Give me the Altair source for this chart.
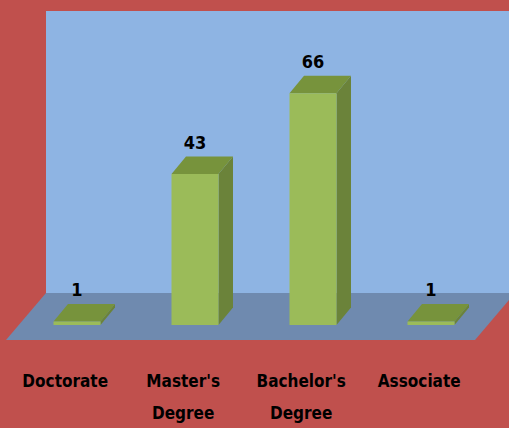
import altair as alt
import pandas as pd

categories = ["Doctorate", "Master's\nDegree", "Bachelor's\nDegree", "Associate"]
values = [1, 43, 66, 1]

# geometry in scale units
W, H = 509, 428
PX_PER_CAT = 118.0
X0_PX = 77.0
PX_PER_VAL = 3.51
Y0_PX = 325.0
x_dom = [-X0_PX / PX_PER_CAT, (W - X0_PX) / PX_PER_CAT]
y_dom = [(Y0_PX - H) / PX_PER_VAL, Y0_PX / PX_PER_VAL]

hw = 23.5 / PX_PER_CAT          # half bar width
ddx = 14.5 / PX_PER_CAT         # depth offset x
ddy = 17.5 / PX_PER_VAL         # depth offset y (value units)

RED = "#C0504D"
WALL = "#8EB4E3"
FLOOR = "#6F8AAF"
FRONT = "#9BBB59"
SIDE = "#6B833A"
TOP = "#77933C"
FONT = "DejaVu Sans Condensed, Roboto, sans-serif"

xs = alt.Scale(domain=x_dom, nice=False, zero=False)
ys = alt.Scale(domain=y_dom, nice=False, zero=False)
X = lambda f: alt.X(f, type="quantitative", scale=xs, axis=None)
Y = lambda f: alt.Y(f, type="quantitative", scale=ys, axis=None)

# wall and floor
wall = pd.DataFrame({"x": [(46 - X0_PX) / PX_PER_CAT], "x2": [x_dom[1]],
                     "y": [(Y0_PX - 294) / PX_PER_VAL], "y2": [y_dom[1] - 11 / PX_PER_VAL]})
floor_front = (Y0_PX - 340) / PX_PER_VAL
floor_back = (Y0_PX - 293) / PX_PER_VAL
fx0 = (6 - X0_PX) / PX_PER_CAT
fx1 = (475 - X0_PX) / PX_PER_CAT
fdx = 40 / PX_PER_CAT
floor = pd.DataFrame({"y": [floor_front, floor_back],
                      "x": [fx0, fx0 + fdx], "x2": [fx1, fx1 + fdx]})

front_rows, side_rows, top_rows, lab_rows, val_rows = [], [], [], [], []
for i, (c, v) in enumerate(zip(categories, values)):
    front_rows.append({"cat": c, "x": i - hw, "x2": i + hw, "y": 0, "y2": v})
    side_rows += [{"cat": c, "x": i + hw, "y": v, "y2": 0},
                  {"cat": c, "x": i + hw + ddx, "y": v + ddy, "y2": ddy}]
    top_rows += [{"cat": c, "y": v, "x": i - hw, "x2": i + hw},
                 {"cat": c, "y": v + ddy, "x": i - hw + ddx, "x2": i + hw + ddx}]
    lab_rows.append({"cat": c, "x": i - 0.1, "y": (Y0_PX - 374) / PX_PER_VAL})
    val_rows.append({"cat": c, "x": i, "y": v + ddy + 1.0, "v": str(v)})

wall_l = alt.Chart(wall).mark_rect(color=WALL).encode(x=X("x"), x2="x2", y=Y("y"), y2="y2")
floor_l = alt.Chart(floor).mark_area(color=FLOOR, orient="horizontal", opacity=1).encode(
    y=Y("y"), x=X("x"), x2="x2")
side_l = alt.Chart(pd.DataFrame(side_rows)).mark_area(color=SIDE, opacity=1).encode(
    x=X("x"), y=Y("y"), y2="y2", detail="cat:N")
top_l = alt.Chart(pd.DataFrame(top_rows)).mark_area(color=TOP, orient="horizontal", opacity=1).encode(
    y=Y("y"), x=X("x"), x2="x2", detail="cat:N")
front_l = alt.Chart(pd.DataFrame(front_rows)).mark_rect(color=FRONT).encode(
    x=X("x"), x2="x2", y=Y("y"), y2="y2")
labels = alt.Chart(pd.DataFrame(lab_rows)).mark_text(
    font=FONT, fontSize=17, fontWeight="bold", color="black", lineBreak="\n",
    lineHeight=32, baseline="top", align="center").encode(x=X("x"), y=Y("y"), text="cat:N")
vals = alt.Chart(pd.DataFrame(val_rows)).mark_text(
    font=FONT, fontSize=18, fontWeight="bold", color="black", baseline="bottom",
    align="center").encode(x=X("x"), y=Y("y"), text="v:N")

chart = alt.layer(wall_l, floor_l, side_l, top_l, front_l, labels, vals).properties(
    width=W, height=H, background=RED, padding=0,
    autosize=alt.AutoSizeParams(type="none"),
).configure_view(stroke=None)

chart.save("out.html", embed_options={"renderer": "svg", "actions": False})
